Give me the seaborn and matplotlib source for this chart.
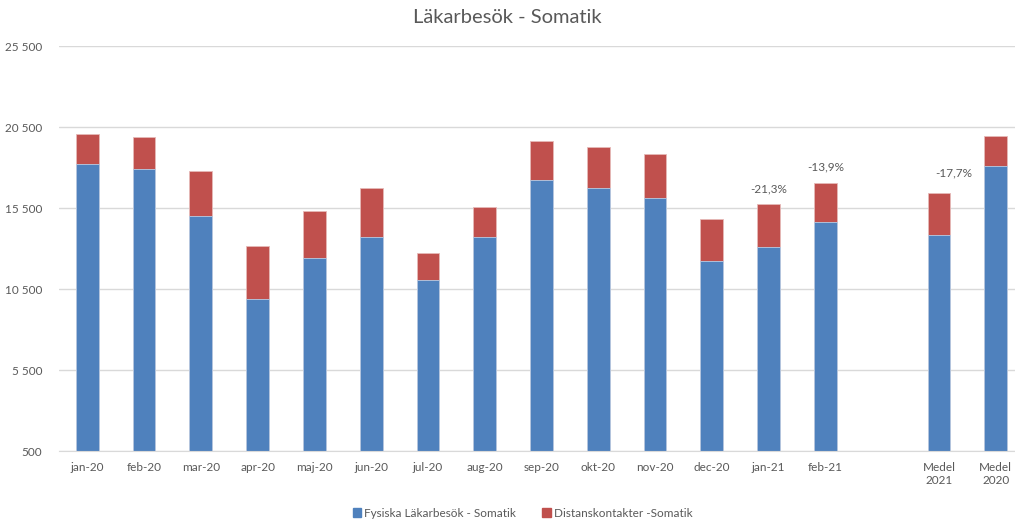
import matplotlib
matplotlib.use("Agg")
from matplotlib import pyplot as plt
from matplotlib.patches import Patch
import pandas as pd
import seaborn as sns

# Data
categories = ['jan-20', 'feb-20', 'mar-20', 'apr-20', 'maj-20', 'jun-20', 'jul-20',
              'aug-20', 'sep-20', 'okt-20', 'nov-20', 'dec-20', 'jan-21', 'feb-21',
              'Medel\n2021', 'Medel\n2020']
fysiska = [18230, 17950, 15040, 9900, 12410, 13710, 11090,
           13710, 17270, 16750, 16140, 12250, 13090, 14670,
           13850, 18090]
distans = [1860, 1930, 2740, 3270, 2900, 3060, 1650,
           1850, 2390, 2510, 2730, 2570, 2700, 2410,
           2600, 1870]
# percentage labels shown above some bars
pct_labels = ['-21,3%', '-13,9%', '-17,7%']
pct_months = ['jan-21', 'feb-21', 'Medel\n2021']

# order with an empty slot between feb-21 and the averages
order = categories[:14] + [' '] + categories[14:]

BLUE = '#4F81BD'
RED = '#C0504D'
GREY = '#595959'

def main():
    sns.set_style("white")
    plt.rcParams['font.family'] = ['Lato', 'DejaVu Sans']

    df = pd.DataFrame({'month': categories, 'fysiska': fysiska, 'distans': distans})
    df['total'] = df['fysiska'] + df['distans']

    fig = plt.figure(figsize=(10.15, 5.22), dpi=100)
    ax = fig.add_axes([0.058, 0.1354, 0.951, 0.7759])

    # stacked bars: total in red, physical visits in blue on top
    sns.barplot(data=df, x='month', y='total', order=order, color=RED, width=0.4,
                saturation=1, edgecolor='#E6B9B8', linewidth=0.6, ax=ax)
    sns.barplot(data=df, x='month', y='fysiska', order=order, color=BLUE, width=0.4,
                saturation=1, edgecolor='#B9CDE5', linewidth=0.6, ax=ax)

    ax.set_ylim(500, 25500)
    ax.set_xlim(-0.5, len(order) - 0.5)
    ax.set_yticks(range(500, 25501, 5000))
    ax.set_yticklabels([f'{v:,}'.replace(',', ' ') for v in range(500, 25501, 5000)])
    ax.yaxis.grid(True, color='#D9D9D9', linewidth=1)
    ax.set_axisbelow(True)
    for s in ['top', 'right', 'left']:
        ax.spines[s].set_visible(False)
    ax.spines['bottom'].set_color('#D9D9D9')
    ax.tick_params(axis='both', length=0, colors=GREY, labelsize=8.5)
    ax.tick_params(axis='y', pad=12)
    ax.tick_params(axis='x', pad=8)
    ax.set_xlabel('')
    ax.set_ylabel('')

    # percentage annotations (Excel placed them by hand, so offsets differ a bit)
    offsets = [(0, 6.3), (0, 7.7), (11, 10.6)]
    for txt, name, off in zip(pct_labels, pct_months, offsets):
        i = order.index(name)
        total = df.loc[df['month'] == name, 'total'].iloc[0]
        ax.annotate(txt, (i, total), xytext=off, textcoords='offset points',
                    ha='center', va='bottom', fontsize=8.5, color=GREY)

    fig.suptitle('Läkarbesök - Somatik', y=0.982, fontsize=14.5, color=GREY)

    handles = [Patch(color=BLUE, label='Fysiska Läkarbesök - Somatik'),
               Patch(color=RED, label='Distanskontakter -Somatik')]
    fig.legend(handles=handles, loc='center', bbox_to_anchor=(0.515, 0.017), ncol=2,
               frameon=False, fontsize=8.5, handlelength=0.7, handleheight=0.7,
               handletextpad=0.3, columnspacing=2.2, labelcolor=GREY)

    plt.savefig('out.png', dpi=100)


if __name__ == '__main__':
    main()
